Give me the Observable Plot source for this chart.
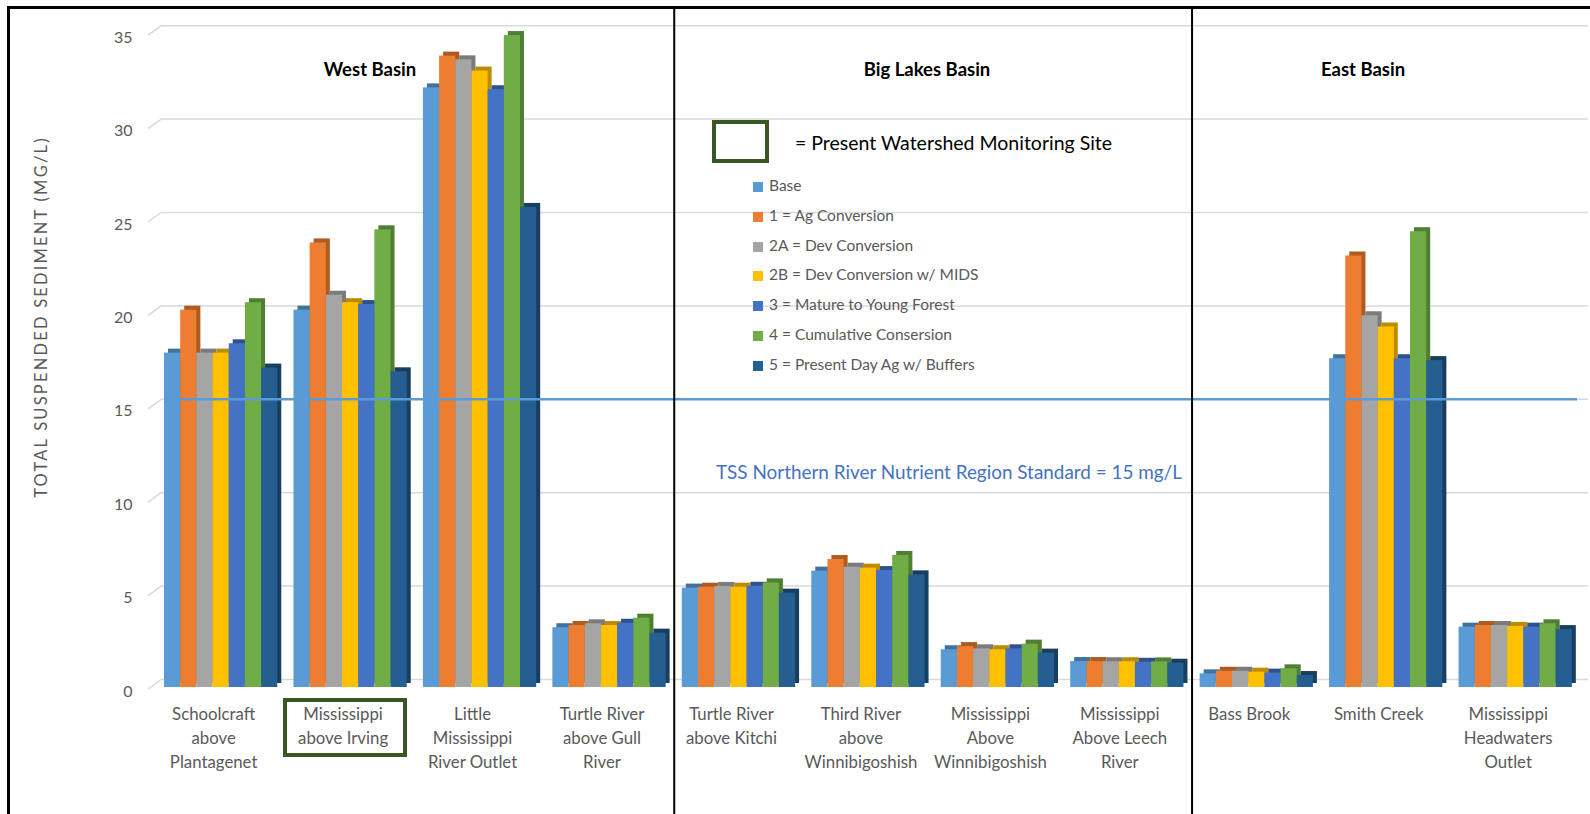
<!DOCTYPE html>
<html><head><meta charset="utf-8">
<script src="https://cdn.jsdelivr.net/npm/d3@7"></script>
<script src="https://cdn.jsdelivr.net/npm/@observablehq/plot@0.6"></script>
<style>
body{margin:0;background:#fff;}
#wrap{position:relative;width:1590px;height:814px;overflow:hidden;font-family:Lato,"Open Sans",sans-serif;background:#fff;}
#chart{position:absolute;left:0;top:0}
.ov{position:absolute;white-space:nowrap}
.basin{font-weight:bold;font-size:18.5px;color:#000;transform:translateX(-50%);line-height:24px}
.leg{position:absolute;left:753px;font-size:15.5px;color:#595959;line-height:20px;height:20px}
.leg span.sw{display:inline-block;width:10px;height:10px;margin-right:6px;vertical-align:-1px}
</style></head><body>
<div id="wrap">
  <div id="chart"></div>
</div>
<script>
// ---------- data ----------
const sites = [
  "Schoolcraft above Plantagenet",
  "Mississippi above Irving",
  "Little Mississippi River Outlet",
  "Turtle River above Gull River",
  "Turtle River above Kitchi",
  "Third River above Winnibigoshish",
  "Mississippi Above Winnibigoshish",
  "Mississippi Above Leech River",
  "Bass Brook",
  "Smith Creek",
  "Mississippi Headwaters Outlet"
];
const siteLabels = [
  "Schoolcraft\nabove\nPlantagenet",
  "Mississippi\nabove Irving",
  "Little\nMississippi\nRiver Outlet",
  "Turtle River\nabove Gull\nRiver",
  "Turtle River\nabove Kitchi",
  "Third River\nabove\nWinnibigoshish",
  "Mississippi\nAbove\nWinnibigoshish",
  "Mississippi\nAbove Leech\nRiver",
  "Bass Brook",
  "Smith Creek",
  "Mississippi\nHeadwaters\nOutlet"
];
const scenarios = [
  "Base",
  "1 = Ag Conversion",
  "2A = Dev Conversion",
  "2B = Dev Conversion w/ MIDS",
  "3 = Mature to Young Forest",
  "4 = Cumulative Consersion",
  "5 = Present Day Ag w/ Buffers"
];
const base          = [17.9, 20.2, 32.1, 3.20, 5.32, 6.23, 2.02, 1.39, 0.73, 17.6, 3.23];
const agConversion  = [20.2, 23.8, 33.8, 3.32, 5.37, 6.85, 2.19, 1.39, 0.87, 23.1, 3.32];
const devConversion = [17.9, 21.0, 33.6, 3.41, 5.41, 6.44, 2.07, 1.38, 0.87, 19.9, 3.32];
const devMids       = [17.9, 20.6, 33.0, 3.32, 5.37, 6.39, 2.02, 1.38, 0.82, 19.3, 3.27];
const youngForest   = [18.4, 20.5, 32.0, 3.44, 5.42, 6.26, 2.07, 1.35, 0.77, 17.6, 3.23];
const cumulative    = [20.6, 24.5, 34.9, 3.71, 5.60, 7.07, 2.32, 1.37, 1.00, 24.4, 3.41];
const buffers       = [17.1, 16.9, 25.7, 2.91, 5.05, 6.03, 1.84, 1.30, 0.64, 17.5, 3.10];
const seriesValues = [base, agConversion, devConversion, devMids, youngForest, cumulative, buffers];

const colors     = ["#5B9BD5", "#ED7D31", "#A5A5A5", "#FFC000", "#4472C4", "#70AD47", "#255E91"];
const sideColors = ["#41719C", "#AE5A21", "#7B7B7B", "#BC8C00", "#2F528F", "#507E32", "#183E60"];
const yTicks = [0, 5, 10, 15, 20, 25, 30, 35];
const standard = 15;
const basins = ["West Basin", "Big Lakes Basin", "East Basin"];
const basinEnds = ["Turtle River above Gull River", "Mississippi Above Leech River"];
const monitoredSite = "Mississippi above Irving";
const yTitle = "TOTAL SUSPENDED SEDIMENT (MG/L)";
const standardLabel = "TSS Northern River Nutrient Region Standard = 15 mg/L";
const monitorLabel = "= Present Watershed Monitoring Site";

// ---------- table ----------
const GAP = "gap";
const key = (s, c) => s + "|" + c;
const rows = [];
sites.forEach((s, i) => scenarios.forEach((c, j) => rows.push({site: s, scenario: c, value: seriesValues[j][i]})));
const xDomain = sites.flatMap(s => [...scenarios.map(c => key(s, c)), key(s, GAP)]);
const sideScale = d3.scaleOrdinal(scenarios, sideColors);

const chart = Plot.plot({
  width: 1590, height: 814,
  marginLeft: 164, marginRight: 2, marginTop: 33.2, marginBottom: 127,
  style: {background: "transparent", fontFamily: "Lato, 'Open Sans', sans-serif"},
  x: {domain: xDomain, padding: 0, axis: null, round: false},
  y: {domain: [0, 35], axis: null},
  color: {domain: scenarios, range: colors},
  marks: [
    Plot.ruleY(yTicks, {stroke: "#d9d9d9", strokeWidth: 1.5, dy: -8, insetLeft: -2}),
    Plot.axisY({ticks: yTicks, tickSize: 0, tickPadding: 32, dy: 4, fontSize: 16, color: "#595959", label: null}),
    Plot.barY(rows, {x: d => key(d.site, d.scenario), y: "value", fill: d => sideScale(d.scenario), dx: 4, dy: -4}),
    Plot.barY(rows, {x: d => key(d.site, d.scenario), y: "value", fill: "scenario"}),
    Plot.ruleY([standard], {stroke: "#5B9BD5", strokeWidth: 2.5, dy: -8, insetRight: 11}),
    Plot.ruleX(basinEnds, {x: s => key(s, GAP), stroke: "#000", strokeWidth: 2, insetTop: -27, insetBottom: -127}),
    Plot.text(sites, {
      x: s => key(s, scenarios[3]), text: (s, i) => siteLabels[i],
      frameAnchor: "bottom", lineAnchor: "top", dy: 16, dx: -7.5,
      fontSize: 16.8, lineHeight: 1.41, fill: "#595959"
    })
  ]
});
document.getElementById("chart").appendChild(chart);

// slanted 3D tick connectors on the left wall, positioned with Plot's own y scale
const yScale = chart.scale("y");
const svg = d3.select(chart);
svg.append("g").attr("stroke", "#d9d9d9").attr("stroke-width", 1.5)
  .selectAll("line").data(yTicks).join("line")
  .attr("x1", 148).attr("x2", 162)
  .attr("y1", v => yScale.apply(v) + 2)
  .attr("y2", v => yScale.apply(v) - 8);

// ---------- overlays (titles, legend, annotations) ----------
const wrap = document.getElementById("wrap");
function add(html, style, cls) {
  const d = document.createElement("div");
  d.className = cls || "ov";
  d.setAttribute("style", style);
  d.innerHTML = html;
  wrap.appendChild(d);
  return d;
}
// outer frame (top and left edges)
add("", "left:7px;top:6px;width:1600px;height:820px;border-top:3px solid #000;border-left:3px solid #000;");
// basin titles
const basinX = [370, 927, 1363];
basins.forEach((b, i) => add(b, `left:${basinX[i]}px;top:57px;`, "ov basin"));
// monitoring site legend
add("", "left:712px;top:120px;width:49px;height:35px;border:4px solid #385723;");
add(monitorLabel, "left:795px;top:130px;font-size:19.5px;color:#000;line-height:26px;");
// box around monitored site label
add("", "left:283px;top:698px;width:116px;height:51px;border:4px solid #385723;");
// scenario legend
scenarios.forEach((s, i) => {
  add(`<span class="sw" style="background:${colors[i]}"></span>${s}`, `top:${175 + 29.8 * i}px;`, "leg");
});
// standard label
add(standardLabel, "left:716px;top:459px;font-size:18.9px;color:#4472C4;line-height:25px;");
// y title
add(yTitle, "left:41px;top:317px;font-size:16.5px;letter-spacing:2.2px;color:#595959;transform:translate(-50%,-50%) rotate(-90deg);line-height:20px;");
</script>
</body></html>
